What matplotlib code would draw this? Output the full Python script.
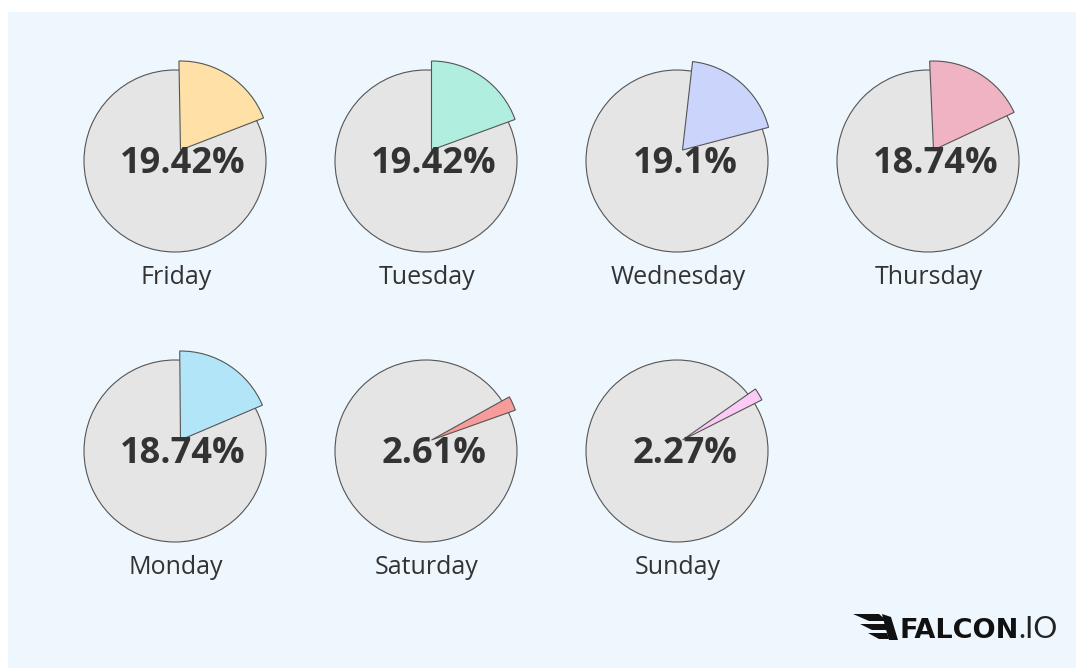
import matplotlib
matplotlib.use("Agg")
import matplotlib.pyplot as plt
from matplotlib.patches import Wedge, Rectangle, Polygon

# share of posts per weekday
days = ["Friday", "Tuesday", "Wednesday", "Thursday", "Monday", "Saturday", "Sunday"]
shares = [19.42, 19.42, 19.1, 18.74, 18.74, 2.61, 2.27]
slice_colors = ["#FFE0A6", "#B0EEDF", "#CBD5FB", "#F0B3C3", "#B3E5F8", "#F89B9B", "#FBCBF5"]
# where each highlighted slice begins (degrees, ccw from 3 o'clock)
start_angles = [91, 90, 83.5, 92.5, 90.5, 29, 35]

W, H = 1082, 671
fig = plt.figure(figsize=(W / 100, H / 100), dpi=100)
ax = fig.add_axes([0, 0, 1, 1])
ax.set_xlim(0, W)
ax.set_ylim(0, H)
ax.axis("off")

# light panel behind everything
ax.add_patch(Rectangle((8, 3), 1068, 656, facecolor="#EEF7FE", edgecolor="none", zorder=0))

col_x = [175, 426, 677, 928]
row_y = [H - 161, H - 451]
radius = 91
shift = (5.5, 11)

for i, (day, pct, color, start) in enumerate(zip(days, shares, slice_colors, start_angles)):
    cx = col_x[i % 4]
    cy = row_y[i // 4]
    ax.add_patch(Wedge((cx, cy), radius, 0, 360, facecolor="#E5E5E5",
                       edgecolor="#555555", linewidth=0.8, zorder=1))
    ax.add_patch(Wedge((cx + shift[0], cy + shift[1]), radius - 2,
                       start - 360 * pct / 100, start,
                       facecolor=color, edgecolor="#555555", linewidth=0.8, zorder=2))
    label = f"{pct:g}%"
    ax.text(cx + 8, cy - 12, label, ha="center", va="baseline", fontsize=26,
            fontweight="bold", family="Open Sans", color="#333333", zorder=3)
    ax.text(cx + 1, cy - 123, day, ha="center", va="baseline", fontsize=18,
            family="Open Sans", color="#333333", zorder=3)

# logo in the lower right
def px(pts):
    return [(x, H - y) for x, y in pts]

wing = [
    [(853, 614), (879, 614), (887, 621), (869, 621)],
    [(860, 624), (885, 624), (888, 630), (872, 630)],
    [(868, 633), (887, 633), (889, 639), (879, 639)],
    [(882, 614), (891, 617), (898, 640), (889, 640), (885, 626)],
]
for feather in wing:
    ax.add_patch(Polygon(px(feather), closed=True, facecolor="#111111", edgecolor="none", zorder=3))

ax.text(900, H - 638, "FALCON", ha="left", va="baseline", fontsize=19.5,
        fontweight="bold", family="DejaVu Sans", color="#111111", zorder=3)
ax.text(1018, H - 638, ".IO", ha="left", va="baseline", fontsize=21.5,
        fontweight="normal", family="Lato", color="#222222", zorder=3)

fig.savefig("out.png", dpi=100, facecolor="white")
